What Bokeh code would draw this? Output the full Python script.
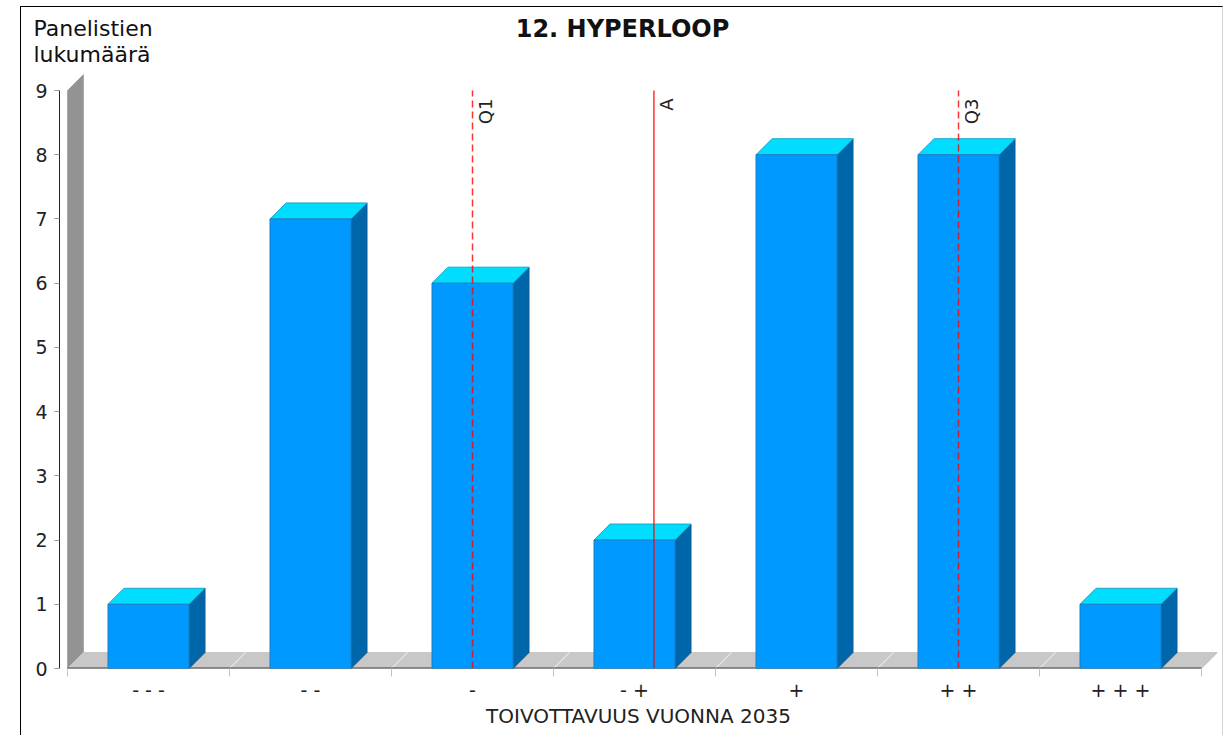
import numpy as np
from bokeh.plotting import figure
from bokeh.layouts import column
from bokeh.models import FixedTicker, Range1d
from bokeh.core.properties import value
from bokeh.embed import file_html
from bokeh.resources import INLINE

# ---- data ----
categories = ["- - -", "- -", "-", "- +", "+", "+ +", "+ + +"]
counts = [1, 7, 6, 2, 8, 8, 1]
marker_names = ["Q1", "A", "Q3"]
marker_values = [3.0, 4.12, 6.0]
marker_dashes = ["7 4", "solid", "7 4"]
y_ticks = [0, 1, 2, 3, 4, 5, 6, 7, 8, 9]
chart_title = "12. HYPERLOOP"
y_title = "Panelistien\nlukumäärä"
x_title = "TOIVOTTAVUUS VUONNA 2035"

FONT = value("DejaVu Sans")

# ---- layout (content starts at page x=21, y=7) ----
W = 1201
HH = 64                       # header height
HM = 664                      # main figure height
FL, FR, FT, FB = 38, 1196, 3, 597   # main frame edges (canvas px)
PX_X = 162.0                  # px per category
PX_Y = 64.22                  # px per count
x0 = 0.5 - 8 / PX_X
x1 = x0 + (FR - FL) / PX_X
y1 = (FB - FT) / PX_Y
DX = 16 / PX_X
DY = 16 / PX_Y
HALF = 0.25

# ---------------- header (titles) ----------------
h = figure(width=W, height=HH, output_backend="svg", toolbar_location=None,
           x_range=Range1d(0, W), y_range=Range1d(HH, 0),
           x_axis_type=None, y_axis_type=None, title=None, frame_align=False,
           min_border_left=0, min_border_right=0, min_border_top=0, min_border_bottom=0,
           background_fill_color="white", border_fill_color="white",
           outline_line_color=None)
h.xgrid.visible = False
h.ygrid.visible = False
yt_lines = y_title.split("\n")
h.text(x=[12] * len(yt_lines), y=[21 + 26 * i for i in range(len(yt_lines))], text=yt_lines,
       text_font=FONT, text_font_size="22px", text_align="left",
       text_baseline="alphabetic", text_color="#111111")
h.text(x=[601], y=[21], text=[chart_title], text_font=FONT, text_font_size="24px",
       text_font_style="bold", text_align="center", text_baseline="alphabetic",
       text_color="#111111")

# ---------------- main chart ----------------
p = figure(width=W, height=HM, output_backend="svg", toolbar_location=None,
           x_range=Range1d(x0, x1), y_range=Range1d(0, y1), title=None, frame_align=False,
           min_border_left=FL, min_border_right=W - FR,
           min_border_top=FT, min_border_bottom=HM - FB,
           background_fill_color="white", border_fill_color="white",
           outline_line_color=None)
p.xgrid.visible = False
p.ygrid.visible = False

n = len(categories)
xs = np.arange(1, n + 1, dtype=float)
vals = np.array(counts, dtype=float)
left_edge = 0.5
right_edge = n + 0.5
ymax = max(y_ticks)

# wall
p.patch([left_edge, left_edge + DX, left_edge + DX, left_edge],
        [0, DY, ymax + DY, ymax], fill_color="#939393", line_color="#a8a8a8", line_width=1)
# floor
p.patch([left_edge, right_edge, right_edge + DX, left_edge + DX],
        [0, 0, DY, DY], fill_color="#c8c8c8", line_color="#c8c8c8", line_width=1)
bounds = np.arange(1.5, n, 1.0)
p.segment(x0=bounds, y0=0, x1=bounds + DX, y1=DY, line_color="#e4e4e4", line_width=1.2)
p.segment(x0=[left_edge], y0=[0], x1=[right_edge], y1=[0], line_color="#404040", line_width=2)

# bars (3D)
bl = xs - HALF
br = xs + HALF
p.patches(xs=[[r, r + DX, r + DX, r] for r in br],
          ys=[[0, DY, v + DY, v] for v in vals],
          fill_color="#0066aa", line_color="#0a5c94", line_width=1)
p.patches(xs=[[l, r, r + DX, l + DX] for l, r in zip(bl, br)],
          ys=[[v, v, v + DY, v + DY] for v in vals],
          fill_color="#00ddff", line_color="#1aa6cc", line_width=1)
p.quad(left=bl, right=br, bottom=0, top=vals,
       fill_color="#0099ff", line_color="#1a7fc4", line_width=1)

# markers
for name, mv, dash in zip(marker_names, marker_values, marker_dashes):
    p.segment(x0=[mv], y0=[0], x1=[mv], y1=[ymax], line_color="#ff0000",
              line_alpha=0.8, line_width=1.5, line_dash=dash)
p.text(x=marker_values, y=[ymax] * len(marker_values), text=marker_names,
       angle=np.pi / 2, text_align="right", text_baseline="top",
       x_offset=2, y_offset=8, text_font=FONT, text_font_size="18px",
       text_color="#222222")

# x axis
xa = p.xaxis[0]
xa.ticker = FixedTicker(ticks=list(xs), minor_ticks=list(np.arange(0.5, n + 1, 1.0)))
xa.major_label_overrides = {int(i + 1): c for i, c in enumerate(categories)}
xa.axis_line_color = None
xa.major_tick_line_color = None
xa.major_tick_out = 0
xa.major_tick_in = 0
xa.minor_tick_line_color = "#c4c4c4"
xa.minor_tick_out = 8
xa.minor_tick_in = 0
xa.major_label_standoff = 2
xa.major_label_text_font = "DejaVu Sans"
xa.major_label_text_font_size = "19px"
xa.major_label_text_color = "#222222"
xa.axis_label = x_title
xa.axis_label_text_font = "DejaVu Sans"
xa.axis_label_text_font_size = "20px"
xa.axis_label_text_font_style = "normal"
xa.axis_label_text_color = "#222222"
xa.axis_label_standoff = 0

# y axis
ya = p.yaxis[0]
ya.ticker = FixedTicker(ticks=y_ticks)
ya.bounds = (0, ymax)
ya.axis_line_color = "#222222"
ya.axis_line_width = 1
ya.major_tick_out = 5
ya.major_tick_in = 0
ya.major_tick_line_color = "#999999"
ya.minor_tick_line_color = None
ya.major_label_standoff = 7
ya.major_label_text_font = "DejaVu Sans"
ya.major_label_text_font_size = "19px"
ya.major_label_text_color = "#222222"

page = column(h, p, spacing=0,
              styles={"margin-left": "20px", "margin-top": "6px",
                      "border-left": "1px solid #000000",
                      "border-top": "1px solid #000000",
                      "border-right": "1px solid #d4d4d4"})

open("out.html", "w").write(file_html(page, INLINE))
